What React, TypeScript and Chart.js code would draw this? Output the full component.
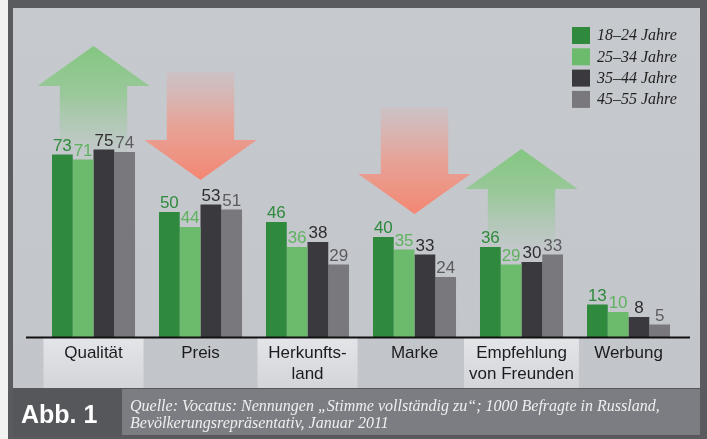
import React, { useEffect, useRef } from "react";
import { Chart, registerables } from "chart.js";

Chart.register(...registerables);

const categories: string[][] = [
  ["Qualität"],
  ["Preis"],
  ["Herkunfts-", "land"],
  ["Marke"],
  ["Empfehlung", "von Freunden"],
  ["Werbung"],
];
const highlighted = [true, false, true, false, true, false];

const seriesLabels = ["18–24 Jahre", "25–34 Jahre", "35–44 Jahre", "45–55 Jahre"];
const age18_24 = [73, 50, 46, 40, 36, 13];
const age25_34 = [71, 44, 36, 35, 29, 10];
const age35_44 = [75, 53, 38, 33, 30, 8];
const age45_55 = [74, 51, 29, 24, 33, 5];

const barColors = ["#2f8a3d", "#6cba6b", "#3a393d", "#78787d"];
const valueColors = ["#2f8a3d", "#5fb35f", "#2e2e30", "#5c5c60"];

// arrows: category index, direction, tail value, head-base value, tip value
const arrowCats = [0, 1, 3, 4];
const arrowDirs = ["up", "down", "down", "up"];
const arrowTail = [74, 106, 92, 36];
const arrowBase = [100.4, 78.8, 65.2, 59.2];
const arrowTip = [116.4, 62.8, 49.2, 75.2];

const sourceLines = [
  "Quelle: Vocatus: Nennungen „Stimme vollständig zu“; 1000 Befragte in Russland,",
  "Bevölkerungsrepräsentativ, Januar 2011",
];

const SANS = "'Liberation Sans', Arial, sans-serif";
const SERIF = "'Liberation Serif', 'Times New Roman', serif";

const decorPlugin = {
  id: "decor",
  beforeDraw(chart: any) {
    const ctx = chart.ctx;
    const W = chart.width;
    const H = chart.height;
    ctx.save();
    ctx.fillStyle = "#5a5b5f";
    ctx.fillRect(0, 0, W, H);
    ctx.fillStyle = "#f2f2f2";
    ctx.fillRect(0, 0, 8, H);
    const g = ctx.createLinearGradient(0, 8, 0, 388);
    g.addColorStop(0, "#c6c9ce");
    g.addColorStop(1, "#c2c5ca");
    ctx.fillStyle = g;
    ctx.fillRect(13, 8, 700 - 13, 388 - 8);
    ctx.fillStyle = "#55575b";
    ctx.fillRect(13, 388, 700 - 13, 48);
    ctx.fillStyle = "#7b7d82";
    ctx.fillRect(122, 389, 700 - 122, 46);
    ctx.restore();
  },
  beforeDatasetsDraw(chart: any) {
    const ctx = chart.ctx;
    const xs = chart.scales.x;
    const ys = chart.scales.y;
    const band = xs.getPixelForValue(1) - xs.getPixelForValue(0);
    ctx.save();
    arrowCats.forEach((ci, k) => {
      const cx = xs.getPixelForValue(ci);
      const headHalf = band * 0.525;
      const shaftHalf = band * 0.315;
      const yTail = ys.getPixelForValue(arrowTail[k]);
      const yBase = ys.getPixelForValue(arrowBase[k]);
      const yTip = ys.getPixelForValue(arrowTip[k]);
      const up = arrowDirs[k] === "up";
      const grad = ctx.createLinearGradient(0, yTail, 0, yTip);
      if (up) {
        grad.addColorStop(0, "rgba(150,205,150,0.05)");
        grad.addColorStop(0.55, "rgba(135,200,132,0.7)");
        grad.addColorStop(1, "rgba(128,198,124,0.95)");
      } else {
        grad.addColorStop(0, "rgba(240,160,150,0.15)");
        grad.addColorStop(0.5, "rgba(242,150,132,0.75)");
        grad.addColorStop(1, "rgba(244,134,114,1)");
      }
      ctx.fillStyle = grad;
      ctx.beginPath();
      ctx.moveTo(cx - shaftHalf, yTail);
      ctx.lineTo(cx - shaftHalf, yBase);
      ctx.lineTo(cx - headHalf, yBase);
      ctx.lineTo(cx, yTip);
      ctx.lineTo(cx + headHalf, yBase);
      ctx.lineTo(cx + shaftHalf, yBase);
      ctx.lineTo(cx + shaftHalf, yTail);
      ctx.closePath();
      ctx.fill();
    });
    ctx.restore();
  },
  afterDatasetsDraw(chart: any) {
    const ctx = chart.ctx;
    ctx.save();
    ctx.font = `17px ${SANS}`;
    ctx.textAlign = "center";
    ctx.textBaseline = "alphabetic";
    chart.data.datasets.forEach((ds: any, di: number) => {
      const meta = chart.getDatasetMeta(di);
      meta.data.forEach((bar: any, i: number) => {
        ctx.fillStyle = valueColors[di];
        ctx.fillText(String(ds.data[i]), bar.x, bar.y - 4);
      });
    });
    ctx.restore();
  },
  afterDraw(chart: any) {
    const ctx = chart.ctx;
    const xs = chart.scales.x;
    const area = chart.chartArea;
    ctx.save();
    ctx.font = `17px ${SANS}`;
    categories.forEach((lines, i) => {
      const cx = xs.getPixelForValue(i);
      if (highlighted[i]) {
        const tw = Math.max(...lines.map((l) => ctx.measureText(l).width));
        const bw = Math.max(100, tw + 10);
        const g = ctx.createLinearGradient(0, area.bottom, 0, 388);
        g.addColorStop(0, "#e3e5e8");
        g.addColorStop(1, "#d3d5d9");
        ctx.fillStyle = g;
        ctx.fillRect(cx - bw / 2, area.bottom + 1, bw, 388 - area.bottom - 1);
      }
      ctx.fillStyle = "#1c1c1e";
      ctx.textAlign = "center";
      ctx.textBaseline = "alphabetic";
      lines.forEach((l, j) => {
        ctx.fillText(l, cx, 358 + j * 21);
      });
    });
    ctx.strokeStyle = "#111";
    ctx.lineWidth = 2;
    ctx.beginPath();
    ctx.moveTo(26, area.bottom + 0.5);
    ctx.lineTo(690, area.bottom + 0.5);
    ctx.stroke();
    ctx.font = `italic 16px ${SERIF}`;
    ctx.textAlign = "left";
    ctx.textBaseline = "middle";
    seriesLabels.forEach((lab, i) => {
      const y = 27 + i * 21.3;
      ctx.fillStyle = barColors[i];
      ctx.fillRect(572, y, 18, 17);
      ctx.fillStyle = "#222";
      ctx.fillText(lab, 597, y + 9);
    });
    ctx.fillStyle = "#ffffff";
    ctx.font = `bold 25px ${SANS}`;
    ctx.textBaseline = "alphabetic";
    ctx.fillText("Abb. 1", 21, 423);
    ctx.fillStyle = "#efefef";
    ctx.font = `italic 16px ${SERIF}`;
    sourceLines.forEach((l, j) => {
      ctx.fillText(l, 130, 411 + j * 17);
    });
    ctx.restore();
  },
};

export default function App() {
  const ref = useRef<HTMLCanvasElement | null>(null);
  useEffect(() => {
    if (!ref.current) return;
    const chart = new Chart(ref.current, {
      type: "bar",
      data: {
        labels: categories.map((c) => c.join(" ")),
        datasets: [age18_24, age25_34, age35_44, age45_55].map((d, i) => ({
          label: seriesLabels[i],
          data: d,
          backgroundColor: barColors[i],
          borderWidth: 0,
          barPercentage: 1,
          categoryPercentage: 0.776,
        })),
      },
      options: {
        responsive: false,
        animation: false,
        events: [],
        layout: { padding: { left: 40, right: 25, top: 87, bottom: 102 } },
        plugins: { legend: { display: false }, tooltip: { enabled: false } },
        scales: {
          x: { display: false },
          y: { display: false, min: 0, max: 100 },
        },
      },
      plugins: [decorPlugin],
    });
    return () => chart.destroy();
  }, []);
  return (
    <div style={{ position: "absolute", left: 0, top: 0, width: 707, height: 439 }}>
      <canvas ref={ref} width={707} height={439} style={{ display: "block" }} />
    </div>
  );
}
